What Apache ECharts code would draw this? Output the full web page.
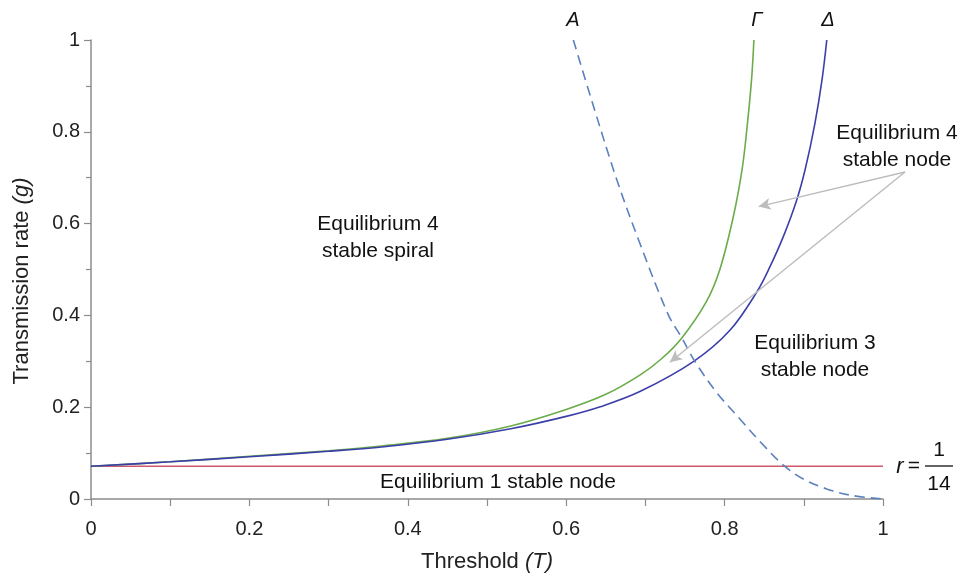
<!DOCTYPE html>
<html>
<head>
<meta charset="utf-8">
<script src="https://cdn.jsdelivr.net/npm/echarts@6/dist/echarts.min.js"></script>
<style>
  html, body { margin: 0; padding: 0; background: #fff; }
  #chart { width: 975px; height: 580px; }
</style>
</head>
<body>
<div id="chart"></div>
<script>
// values
var rValue = 1 / 14;
var redX = [0, 1];

var gammaX = [0, 0.1, 0.2, 0.3, 0.37, 0.45, 0.53, 0.6, 0.65, 0.693, 0.72, 0.746, 0.777, 0.794, 0.811, 0.822, 0.828, 0.834, 0.837];
var gammaY = [0.0714, 0.081, 0.093, 0.105, 0.116, 0.132, 0.159, 0.195, 0.228, 0.27, 0.305, 0.351, 0.43, 0.50, 0.615, 0.717, 0.804, 0.913, 1.0];

var deltaX = [0, 0.1, 0.2, 0.3, 0.37, 0.45, 0.53, 0.6, 0.643, 0.693, 0.762, 0.807, 0.841, 0.857, 0.874, 0.891, 0.902, 0.914, 0.923, 0.929];
var deltaY = [0.0714, 0.081, 0.092, 0.104, 0.114, 0.13, 0.153, 0.18, 0.201, 0.234, 0.301, 0.368, 0.452, 0.505, 0.571, 0.651, 0.72, 0.818, 0.913, 1.0];

var aX = [0.609, 0.636, 0.664, 0.693, 0.729, 0.746, 0.762, 0.79, 0.819, 0.847, 0.875, 0.9, 0.929, 0.96, 1.0];
var aY = [1.0, 0.847, 0.695, 0.557, 0.401, 0.351, 0.301, 0.232, 0.175, 0.121, 0.0725, 0.043, 0.022, 0.008, 0];

// arrow tips (data coords)
var arrowTips = [[0.843, 0.637], [0.731, 0.298]];

function zip(xs, ys) {
    return xs.map(function (x, i) { return [x, ys[i]]; });
}

var font = 'Liberation Sans, Arial, sans-serif';
var axisColor = '#8c8c8c';

var chart = echarts.init(document.getElementById('chart'));

var option = {
    animation: false,
    grid: { left: 91, right: 92, top: 40, bottom: 81 },
    xAxis: {
        type: 'value',
        min: 0,
        max: 1,
        interval: 0.2,
        name: 'Threshold {i|(T)}',
        nameLocation: 'middle',
        nameGap: 52,
        nameTextStyle: {
            fontFamily: font, fontSize: 22, color: '#222',
            rich: { i: { fontFamily: font, fontSize: 22, fontStyle: 'italic', color: '#222' } }
        },
        axisLine: { lineStyle: { color: axisColor, width: 1.5 } },
        axisTick: { length: 7, lineStyle: { color: axisColor, width: 1.2 } },
        minorTick: { show: true, splitNumber: 2, length: 7, lineStyle: { color: axisColor, width: 1.2 } },
        splitLine: { show: false },
        axisLabel: { fontFamily: font, fontSize: 20, color: '#222', margin: 20 }
    },
    yAxis: {
        type: 'value',
        min: 0,
        max: 1,
        interval: 0.2,
        axisLine: { show: true, lineStyle: { color: axisColor, width: 1.5 } },
        axisTick: { show: true, length: 7, lineStyle: { color: axisColor, width: 1.2 } },
        minorTick: { show: true, splitNumber: 2, length: 5, lineStyle: { color: axisColor, width: 1.2 } },
        splitLine: { show: false },
        axisLabel: { fontFamily: font, fontSize: 20, color: '#222', margin: 11 }
    },
    series: [
        {
            name: 'r',
            type: 'line',
            data: redX.map(function (x) { return [x, rValue]; }),
            showSymbol: false,
            lineStyle: { color: '#cd5a6a', width: 1.6 }
        },
        {
            name: 'Γ',
            type: 'line',
            data: zip(gammaX, gammaY),
            smooth: 0.35,
            showSymbol: false,
            lineStyle: { color: '#6aac4a', width: 1.6 }
        },
        {
            name: 'Δ',
            type: 'line',
            data: zip(deltaX, deltaY),
            smooth: 0.35,
            showSymbol: false,
            lineStyle: { color: '#3c3faa', width: 1.6 }
        },
        {
            name: 'A',
            type: 'line',
            data: zip(aX, aY),
            smooth: 0.35,
            showSymbol: false,
            lineStyle: { color: '#5b80bd', width: 1.6, type: [10, 6] }
        },
        {
            // arrows for "Equilibrium 4 stable node"
            name: 'arrows',
            type: 'line',
            data: [],
            clip: false,
            markLine: {
                silent: true,
                symbol: ['none', 'arrow'],
                symbolSize: [9, 12],
                label: { show: false },
                lineStyle: { color: '#bdbdbd', width: 1.5, type: 'solid' },
                data: arrowTips.map(function (t) {
                    return [{ x: 905, y: 172 }, { coord: t }];
                })
            }
        }
    ],
    graphic: [
        { type: 'text', x: 22, y: 281, rotation: Math.PI / 2, style: { text: 'Transmission rate {i|(g)}', font: '22px ' + font, fill: '#222', textAlign: 'center', textVerticalAlign: 'middle', rich: { i: { font: 'italic 22px ' + font, fill: '#222' } } } },
        { type: 'text', x: 573, y: 20, style: { text: 'A', font: 'italic 20px ' + font, fill: '#111', textAlign: 'center', textVerticalAlign: 'middle' } },
        { type: 'text', x: 757, y: 20, style: { text: 'Γ', font: 'italic 20px ' + font, fill: '#111', textAlign: 'center', textVerticalAlign: 'middle' } },
        { type: 'text', x: 828, y: 20, style: { text: 'Δ', font: 'italic 20px ' + font, fill: '#111', textAlign: 'center', textVerticalAlign: 'middle' } },
        { type: 'text', x: 378, y: 238, style: { text: 'Equilibrium 4\nstable spiral', font: '21px ' + font, fill: '#111', textAlign: 'center', textVerticalAlign: 'middle', lineHeight: 27 } },
        { type: 'text', x: 897, y: 147, style: { text: 'Equilibrium 4\nstable node', font: '21px ' + font, fill: '#111', textAlign: 'center', textVerticalAlign: 'middle', lineHeight: 27 } },
        { type: 'text', x: 815, y: 357, style: { text: 'Equilibrium 3\nstable node', font: '21px ' + font, fill: '#111', textAlign: 'center', textVerticalAlign: 'middle', lineHeight: 27 } },
        { type: 'text', x: 498, y: 482, style: { text: 'Equilibrium 1 stable node', font: '21px ' + font, fill: '#111', textAlign: 'center', textVerticalAlign: 'middle' } },
        { type: 'text', x: 900, y: 467, style: { text: 'r', font: 'italic 22px ' + font, fill: '#111', textAlign: 'center', textVerticalAlign: 'middle' } },
        { type: 'text', x: 914, y: 466, style: { text: '=', font: '21px ' + font, fill: '#111', textAlign: 'center', textVerticalAlign: 'middle' } },
        { type: 'text', x: 939, y: 450, style: { text: '1', font: '21px ' + font, fill: '#111', textAlign: 'center', textVerticalAlign: 'middle' } },
        { type: 'line', shape: { x1: 925, y1: 466, x2: 953, y2: 466 }, style: { stroke: '#111', lineWidth: 1.3 } },
        { type: 'text', x: 939, y: 484, style: { text: '14', font: '21px ' + font, fill: '#111', textAlign: 'center', textVerticalAlign: 'middle' } }
    ]
};

chart.setOption(option);
</script>
</body>
</html>
